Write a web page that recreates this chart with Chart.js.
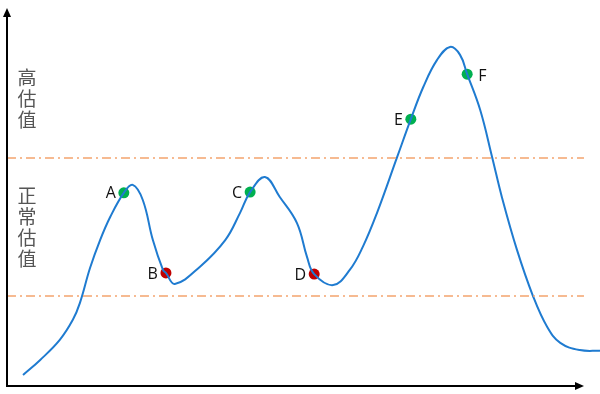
<!DOCTYPE html>
<html>
<head>
<meta charset="utf-8">
<script src="https://cdn.jsdelivr.net/npm/chart.js@4/dist/chart.umd.min.js"></script>
<style>
  html, body { margin: 0; padding: 0; background: #fff; }
  #wrap { width: 600px; height: 394px; }
</style>
</head>
<body>
<div id="wrap"><canvas id="c"></canvas></div>
<script>
// curve (x 0-100, y 0-100)
const curveX = [2.7, 5.6, 8.9, 11.1, 12.3, 14.0, 15.7, 17.4, 19.7, 21.2, 22.9, 24.6, 26.3, 26.8, 28.3,
  32.5, 36.8, 39.3, 41.0, 43.5, 46.0, 48.9, 50.6, 51.8, 55.0, 57.8, 60.0, 62.4, 65.8, 68.1, 70.2, 72.5,
  74.7, 76.4, 77.6, 79.8, 81.8, 83.5, 86.0, 88.7, 91.1, 93.3, 96.6, 100];
const curveY = [2.9, 6.9, 12.2, 17.5, 22.0, 31.2, 38.6, 44.7, 51.1, 53.2, 49.2, 38.6, 30.7, 29.9, 27.0,
  31.5, 38.6, 45.8, 51.3, 55.3, 50.0, 43.1, 34.1, 29.6, 26.7, 30.7, 36.8, 45.8, 60.6, 70.6, 79.1, 86.2,
  89.7, 87.6, 82.5, 73.0, 60.6, 49.7, 36.0, 23.8, 15.6, 11.4, 9.5, 9.3];

const pointNames = ['A', 'B', 'C', 'D', 'E', 'F'];
const pointX = [19.7, 26.8, 41.0, 51.8, 68.1, 77.6];
const pointY = [51.1, 29.9, 51.3, 29.6, 70.6, 82.5];
const pointColors = ['#00b050', '#c00000', '#00b050', '#c00000', '#00b050', '#00b050'];
const labelSide = ['left', 'left', 'left', 'left', 'left', 'right'];

const highLevel = 60.3;
const normalLevel = 23.8;
const lineEnd = 97.3;

const bandLabels = [
  { text: ['高', '估', '值'], value: 76 },
  { text: ['正', '常', '估', '值'], value: 42 },
];

const curve = curveX.map((x, i) => ({ x, y: curveY[i] }));
const marks = pointX.map((x, i) => ({ x, y: pointY[i] }));

const decor = {
  id: 'decor',
  afterDatasetsDraw(chart) {
    const { ctx, chartArea: a, scales: { x, y } } = chart;
    ctx.save();
    // axes with arrows
    ctx.strokeStyle = '#000';
    ctx.fillStyle = '#000';
    ctx.lineWidth = 2;
    const right = x.getPixelForValue(lineEnd);
    ctx.beginPath();
    ctx.moveTo(a.left, a.top + 6);
    ctx.lineTo(a.left, a.bottom);
    ctx.lineTo(right - 6, a.bottom);
    ctx.stroke();
    ctx.beginPath();
    ctx.moveTo(a.left, a.top);
    ctx.lineTo(a.left - 4, a.top + 9);
    ctx.lineTo(a.left + 4, a.top + 9);
    ctx.closePath();
    ctx.fill();
    ctx.beginPath();
    ctx.moveTo(right, a.bottom);
    ctx.lineTo(right - 9, a.bottom - 4);
    ctx.lineTo(right - 9, a.bottom + 4);
    ctx.closePath();
    ctx.fill();

    // point letters
    ctx.fillStyle = '#111';
    ctx.font = '16px "Open Sans", sans-serif';
    ctx.textBaseline = 'middle';
    pointNames.forEach((n, i) => {
      const px = x.getPixelForValue(pointX[i]);
      const py = y.getPixelForValue(pointY[i]);
      if (labelSide[i] === 'left') {
        ctx.textAlign = 'right';
        ctx.fillText(n, px - 8, py + 1);
      } else {
        ctx.textAlign = 'left';
        ctx.fillText(n, px + 11, py + 2);
      }
    });

    // band captions
    ctx.fillStyle = '#555';
    ctx.font = '19px "Noto Sans CJK SC", sans-serif';
    ctx.textAlign = 'center';
    bandLabels.forEach(b => {
      const cy = y.getPixelForValue(b.value);
      const h = 21;
      const start = cy - (b.text.length - 1) * h / 2;
      b.text.forEach((ch, k) => ctx.fillText(ch, a.left + 20, start + k * h));
    });
    ctx.restore();
  }
};

new Chart(document.getElementById('c'), {
  type: 'line',
  data: {
    datasets: [
      {
        data: [{ x: 0, y: highLevel }, { x: lineEnd, y: highLevel }],
        borderColor: '#f4a46e', borderWidth: 1.5, borderDash: [9, 4, 2, 4],
        pointRadius: 0, tension: 0,
      },
      {
        data: [{ x: 0, y: normalLevel }, { x: lineEnd, y: normalLevel }],
        borderColor: '#f4a46e', borderWidth: 1.5, borderDash: [9, 4, 2, 4],
        pointRadius: 0, tension: 0,
      },
      {
        data: curve,
        borderColor: '#1f7bd0', borderWidth: 2,
        pointRadius: 0, tension: 0.4,
      },
      {
        data: marks,
        showLine: false,
        pointRadius: 5.5, pointBorderWidth: 0,
        pointBackgroundColor: pointColors, pointBorderColor: pointColors,
      },
    ],
  },
  options: {
    responsive: true,
    maintainAspectRatio: false,
    animation: false,
    layout: { autoPadding: false, padding: { left: 7, top: 8, right: 0, bottom: 8 } },
    scales: {
      x: { type: 'linear', min: 0, max: 100, display: false },
      y: { min: 0, max: 100, display: false },
    },
    plugins: { legend: { display: false }, tooltip: { enabled: false } },
  },
  plugins: [decor],
});
</script>
</body>
</html>
